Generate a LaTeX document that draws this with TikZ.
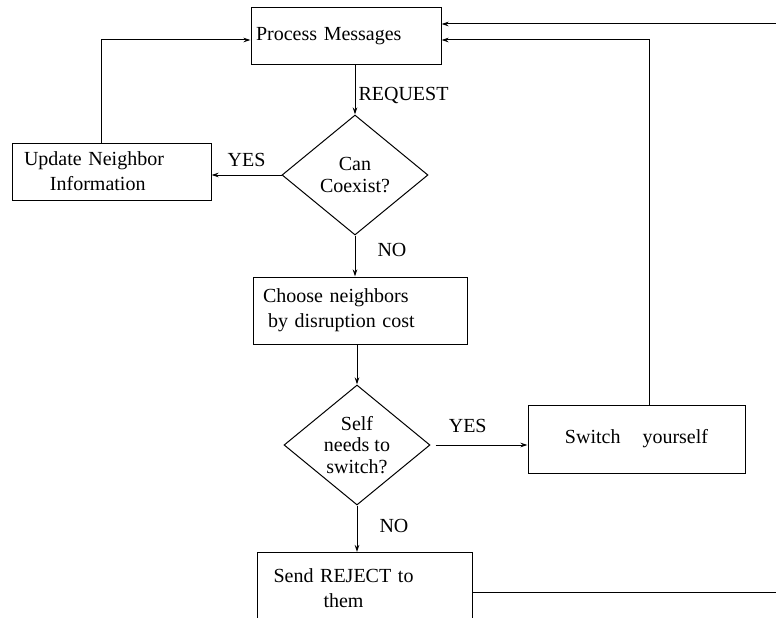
\documentclass[tikz,border=0pt]{standalone}
\usepackage{fontspec}
\setmainfont{Liberation Serif}
\usetikzlibrary{shapes.geometric,arrows.meta,calc}
\begin{document}
\begin{tikzpicture}[x=1pt,y=-1pt,
  every node/.style={font=\fontsize{20}{25}\selectfont},
  box/.style={draw,line width=1pt,rectangle,inner ysep=0pt},
  decision/.style={draw,line width=1pt,diamond,aspect=1.2167,inner sep=0pt,
     minimum width=146pt,minimum height=120pt,align=center,
     font=\fontsize{20}{21.5}\selectfont},
  conn/.style={line width=1pt},
  arr/.style={conn,-{Stealth[length=7pt,width=4.5pt]}},
  lbl/.style={inner sep=0pt}]
\useasboundingbox (0,0) rectangle (776,618);
\fill[white] (0,0) rectangle (776,618);
\clip (0,0) rectangle (776,618);

\node[box,minimum width=190pt,minimum height=57pt,text width=180pt,inner xsep=5pt,align=left] (pm) at (346,36.5) {Process Messages};
\node[box,minimum width=199pt,minimum height=57pt,text width=179pt,inner xsep=10pt,align=left] (up) at (111.5,171.5) {\hspace*{2pt}Update Neighbor\\\hspace*{28pt}Information};
\node[decision] (d1) at (355,175) {Can\\Coexist?};
\node[box,minimum width=214pt,minimum height=67pt,text width=194pt,inner xsep=10pt,align=left] (ch) at (360,310.5) {Choose neighbors\\\hspace*{5pt}by disruption cost};
\node[decision] (d2) at (357,445) {Self\\needs to\\switch?};
\node[box,minimum width=217pt,minimum height=68pt,align=center] (sw) at (636.5,439) {Switch\hspace*{22pt}yourself};
\node[box,anchor=north west,text width=195pt,inner xsep=10pt,inner ysep=16pt,align=left] (sr) at (257,552) {\hspace*{6pt}Send REJECT to\\\hspace*{56pt}them\\[20pt]~};

\coordinate (rtop) at (776,24);
\coordinate (rbot) at (776,592);

% connectors
\draw[arr] (pm.south -| d1.north) -- node[lbl,anchor=west,xshift=3pt,yshift=-1pt,pos=0.6]{REQUEST} (d1.north);
\draw[arr] (d1.west) -- node[lbl,above=8pt]{YES} (d1.west -| up.east);
\draw[arr] ([xshift=-10pt]up.north) |- ([yshift=-3.5pt]pm.west);
\draw[arr] (d1.south) -- node[lbl,right=22pt,pos=0.35]{NO} (d1.south |- ch.north);
\draw[arr] (ch.south -| d2.north) -- (d2.north);
\draw[arr] ([xshift=5pt]d2.east) -- node[lbl,above=12pt,pos=0.35]{YES} (d2.east -| sw.west);
\draw[arr] ([xshift=12.5pt]sw.north) |- ([yshift=-3.5pt]pm.east);
\draw[arr] (d2.south) -- node[lbl,right=22pt,pos=0.45]{NO} (d2.south |- sr.north);
\draw[arr] (rtop) -- (rtop -| pm.east);
\draw[conn] (rbot -| sr.east) -- (rbot);
\end{tikzpicture}
\end{document}
